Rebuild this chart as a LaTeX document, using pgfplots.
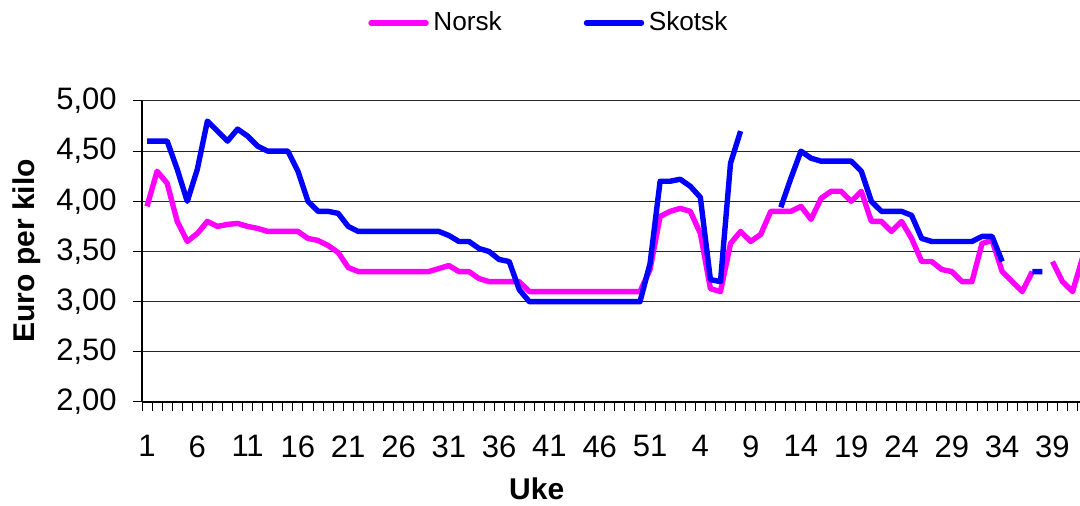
\documentclass[border=0pt]{standalone}
\usepackage{pgfplots}
\pgfplotsset{compat=1.18}
\usepackage{pgfplotstable}
\usepackage{fontspec}
\setmainfont{Liberation Sans}
\definecolor{norsk}{RGB}{255,0,255}
\definecolor{skotsk}{RGB}{0,0,255}

\pgfplotstableread{
i n s
0 3.95 4.60
1 4.30 4.60
2 4.18 4.60
3 3.80 4.32
4 3.60 4.00
5 3.68 4.32
6 3.80 4.80
7 3.75 4.70
8 3.77 4.60
9 3.78 4.72
10 3.75 4.65
11 3.73 4.55
12 3.70 4.50
13 3.70 4.50
14 3.70 4.50
15 3.70 4.30
16 3.63 4.00
17 3.61 3.90
18 3.56 3.90
19 3.49 3.88
20 3.34 3.75
21 3.30 3.70
22 3.30 3.70
23 3.30 3.70
24 3.30 3.70
25 3.30 3.70
26 3.30 3.70
27 3.30 3.70
28 3.30 3.70
29 3.33 3.70
30 3.36 3.66
31 3.30 3.60
32 3.30 3.60
33 3.23 3.53
34 3.20 3.50
35 3.20 3.42
36 3.20 3.40
37 3.20 3.12
38 3.10 3.00
39 3.10 3.00
40 3.10 3.00
41 3.10 3.00
42 3.10 3.00
43 3.10 3.00
44 3.10 3.00
45 3.10 3.00
46 3.10 3.00
47 3.10 3.00
48 3.10 3.00
49 3.10 3.00
50 3.32 3.38
51 3.85 4.20
52 3.90 4.20
53 3.93 4.22
54 3.90 4.15
55 3.68 4.04
56 3.13 3.22
57 3.10 3.20
58 3.58 4.38
59 3.70 4.70
60 3.60 nan
61 3.67 nan
62 3.90 nan
63 3.90 3.94
64 3.90 4.23
65 3.95 4.50
66 3.82 4.43
67 4.03 4.40
68 4.10 4.40
69 4.10 4.40
70 4.00 4.40
71 4.10 4.30
72 3.80 4.00
73 3.80 3.90
74 3.70 3.90
75 3.80 3.90
76 3.63 3.86
77 3.40 3.63
78 3.40 3.60
79 3.32 3.60
80 3.30 3.60
81 3.20 3.60
82 3.20 3.60
83 3.58 3.65
84 3.61 3.65
85 3.30 3.40
86 3.20 nan
87 3.10 nan
88 3.30 3.30
89 nan 3.30
90 3.40 nan
91 3.20 nan
92 3.10 nan
93 3.44 nan
}\data

\begin{document}
\begin{tikzpicture}
\useasboundingbox (0,0) rectangle (540pt,253pt);
\begin{axis}[
  at={(71pt,52pt)}, anchor=south west,
  scale only axis, width=469pt, height=150.5pt,
  xmin=-0.5, xmax=92.74, ymin=2, ymax=5,
  axis lines*=left,
  axis line style={black, line width=0.7pt},
  unbounded coords=jump,
  xtick={0,5,...,90},
  xticklabels={1,6,11,16,21,26,31,36,41,46,51,4,9,14,19,24,29,34,39},
  minor xtick={-0.5,0.5,...,92.5},
  major x tick style={draw=none},
  minor x tick style={black, line width=0.5pt},
  minor tick length=4.5pt,
  major tick length=4.5pt,
  tick align=outside,
  ytick={2,2.5,...,4.5},
  extra y ticks={5},
  extra y tick style={grid style={gray!70, line width=1.2pt}},
  ytick style={black, line width=0.5pt},
  ymajorgrids,
  major grid style={black!85, line width=0.5pt},
  /pgf/number format/assume math mode=true,
  y tick label style={/pgf/number format/fixed, /pgf/number format/fixed zerofill, /pgf/number format/precision=2, /pgf/number format/use comma},
  tick label style={font=\fontsize{15.5}{16}\selectfont},
  yticklabel style={anchor=east, inner sep=0pt, xshift=-8pt},
  xticklabel style={anchor=north, inner sep=0pt, yshift=-12pt},
  xlabel={Uke},
  ylabel={Euro per kilo},
  xlabel style={at={(axis description cs:0.4208,-0.3255)}, anchor=base, font=\fontsize{15}{16}\selectfont\bfseries},
  ylabel style={at={(axis description cs:-0.1229,0.502)}, anchor=center, font=\fontsize{15}{16}\selectfont\bfseries},
  legend columns=2,
  legend style={at={(axis description cs:0.2409,1.2591)}, anchor=west, draw=none, fill=none, inner sep=0pt,
    font=\fontsize{13.1}{15}\selectfont, nodes={inner sep=0pt},
    /tikz/every odd column/.append style={column sep=2.3pt},
    /tikz/every even column/.append style={column sep=41pt}},
  legend image code/.code={\draw[#1, line cap=round] (0pt,0pt) -- (27.5pt,0pt);},
]
\addplot[norsk, line width=2.7pt, line join=round] table[x=i, y=n] {\data};
\addlegendentry{Norsk}
\addplot[skotsk, line width=2.7pt, line join=round] table[x=i, y=s] {\data};
\addlegendentry{Skotsk}
\end{axis}
\end{tikzpicture}
\end{document}
